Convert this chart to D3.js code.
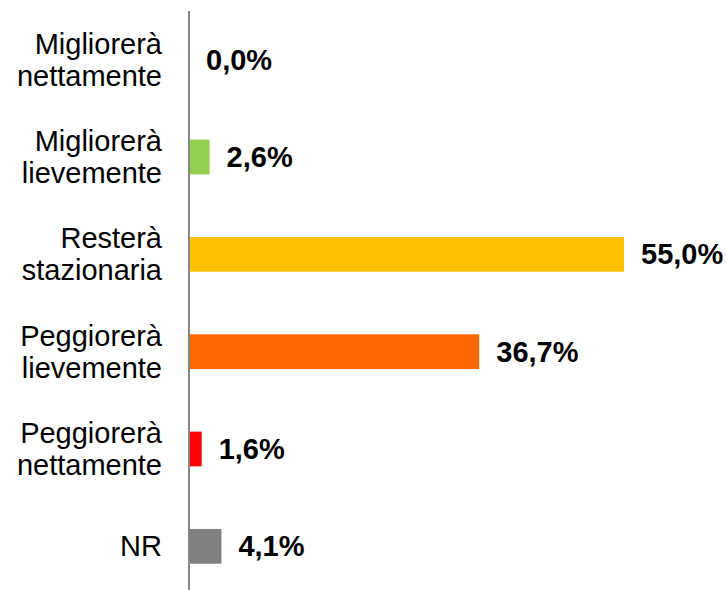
<!DOCTYPE html>
<html>
<head>
<meta charset="utf-8">
<script src="https://cdn.jsdelivr.net/npm/d3@7"></script>
<style>
  html, body { margin: 0; padding: 0; background: #fff; }
</style>
</head>
<body>
<script>
const categories = [
  ['Migliorerà', 'nettamente'],
  ['Migliorerà', 'lievemente'],
  ['Resterà', 'stazionaria'],
  ['Peggiorerà', 'lievemente'],
  ['Peggiorerà', 'nettamente'],
  ['NR']
];
const values = [0.0, 2.6, 55.0, 36.7, 1.6, 4.1];
const valueLabels = ['0,0%', '2,6%', '55,0%', '36,7%', '1,6%', '4,1%'];
const colors = ['#92D050', '#92D050', '#FFC000', '#FF6600', '#FF0000', '#808080'];

const WIDTH = 726;
const HEIGHT = 590;
const FONT = "'Liberation Sans', Arial, sans-serif";
const FSIZE = 29;

const data = values.map((v, i) => ({ i: i, v: v, cat: categories[i], lab: valueLabels[i], col: colors[i] }));

let svg = d3.select('body')
  .append('svg')
  .attr('width', WIDTH)
  .attr('height', HEIGHT);

let xScale = d3.scaleLinear()
  .domain([0, 55])
  .range([189, 624]);

let yScale = d3.scaleBand()
  .domain(d3.range(data.length))
  .range([11, 595])
  .paddingInner(0.643)
  .paddingOuter(0.3215);

svg.selectAll('rect.bar')
  .data(data)
  .enter()
  .append('rect')
  .attr('class', 'bar')
  .attr('x', xScale(0))
  .attr('y', d => yScale(d.i))
  .attr('width', d => xScale(d.v) - xScale(0))
  .attr('height', yScale.bandwidth())
  .style('fill', d => d.col);

// vertical axis line
svg.append('line')
  .attr('x1', xScale(0))
  .attr('x2', xScale(0))
  .attr('y1', 11)
  .attr('y2', HEIGHT)
  .attr('stroke', '#868686')
  .attr('stroke-width', 2);

// category labels
let catText = svg.selectAll('text.cat')
  .data(data)
  .enter()
  .append('text')
  .attr('class', 'cat')
  .attr('x', 162)
  .attr('y', d => yScale(d.i) + yScale.bandwidth() / 2)
  .attr('font-family', FONT)
  .attr('font-size', FSIZE + 'px')
  .attr('fill', '#000')
  .style('text-anchor', 'end');

catText.each(function(d) {
  let n = d.cat.length;
  let lh = 32;
  d3.select(this).selectAll('tspan')
    .data(d.cat)
    .enter()
    .append('tspan')
    .attr('x', 162)
    .attr('y', (t, k) => yScale(d.i) + yScale.bandwidth() / 2 + (k - (n - 1) / 2) * lh)
    .attr('dy', '0.35em')
    .text(t => t);
});

// value labels
svg.selectAll('text.val')
  .data(data)
  .enter()
  .append('text')
  .attr('class', 'val')
  .text(d => d.lab)
  .attr('x', d => xScale(d.v) + 17)
  .attr('y', d => yScale(d.i) + yScale.bandwidth() / 2)
  .attr('dy', '0.35em')
  .attr('font-family', FONT)
  .attr('font-size', FSIZE + 'px')
  .attr('font-weight', 'bold')
  .attr('fill', '#000')
  .style('text-anchor', 'start');
</script>
</body>
</html>
